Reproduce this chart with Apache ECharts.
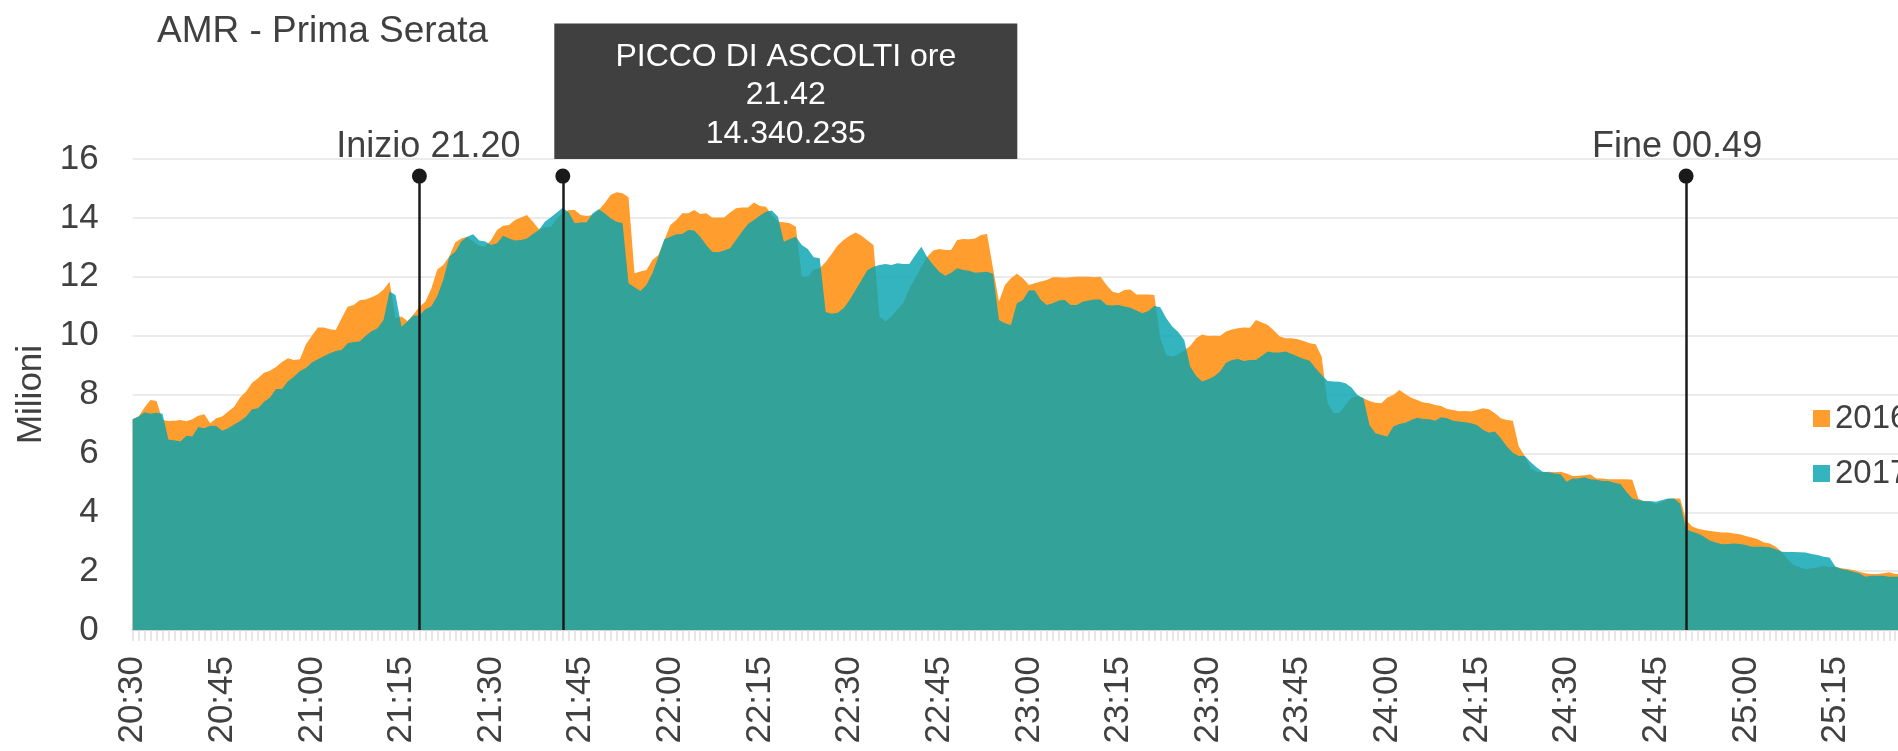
<!DOCTYPE html>
<html>
<head>
<meta charset="utf-8">
<script src="https://cdn.jsdelivr.net/npm/echarts@6/dist/echarts.min.js"></script>
<style>
  html, body { margin: 0; padding: 0; background: #fff; overflow: hidden; }
  #chart { width: 1940px; height: 751px; }
</style>
</head>
<body>
<div id="chart"></div>
<script>
// asse orizzontale: un minuto per punto, dalle 20:30 alle 25:26
const startMinute = 20 * 60 + 30
const times = []
for (let i = 0; i <= 296; i++) {
    const t = startMinute + i
    times.push(Math.floor(t / 60) + ':' + String(t % 60).padStart(2, '0'))
}

// ascolti in milioni
const ascolti2016 = [
    7.16, 7.25, 7.56, 7.81, 7.78, 7.13, 7.10, 7.11, 7.13, 7.09,
    7.16, 7.28, 7.33, 7.02, 7.19, 7.25, 7.42, 7.58, 7.90, 8.10,
    8.40, 8.55, 8.74, 8.81, 8.93, 9.10, 9.23, 9.17, 9.20, 9.70,
    10.00, 10.28, 10.28, 10.22, 10.19, 10.60, 10.98, 11.04, 11.20, 11.23,
    11.30, 11.40, 11.57, 11.83, 10.60, 10.65, 10.50, 10.72, 10.98, 11.15,
    11.60, 12.25, 12.40, 12.70, 13.16, 13.30, 13.36, 13.20, 13.05, 13.03,
    13.25, 13.59, 13.73, 13.76, 13.93, 14.01, 14.10, 13.87, 13.61, 13.68,
    13.70, 13.99, 14.16, 14.27, 14.27, 14.10, 14.06, 14.10, 14.27, 14.50,
    14.78, 14.87, 14.84, 14.70, 12.12, 12.18, 12.23, 12.57, 12.74, 13.25,
    13.76, 13.93, 14.16, 14.16, 14.27, 14.13, 14.16, 14.01, 14.01, 14.01,
    14.18, 14.33, 14.35, 14.35, 14.52, 14.40, 14.38, 14.10, 13.87, 13.85,
    13.82, 13.70, 12.00, 12.00, 12.25, 12.29, 12.50, 12.77, 13.06, 13.25,
    13.39, 13.50, 13.39, 13.23, 13.08, 10.65, 10.48, 10.65, 10.90, 11.12,
    11.60, 11.95, 12.34, 12.68, 12.89, 12.94, 12.91, 12.91, 13.25, 13.28,
    13.27, 13.30, 13.42, 13.45, 12.29, 11.16, 11.72, 11.95, 12.10, 11.95,
    11.72, 11.78, 11.84, 11.89, 11.98, 11.98, 11.97, 11.98, 12.00, 12.00,
    12.00, 11.98, 12.00, 11.72, 11.49, 11.44, 11.55, 11.57, 11.40, 11.40,
    11.40, 11.38, 9.91, 9.34, 9.29, 9.37, 9.50, 9.65, 9.91, 10.04,
    9.99, 10.00, 9.99, 10.14, 10.21, 10.25, 10.28, 10.27, 10.53, 10.45,
    10.36, 10.17, 9.97, 9.91, 9.91, 9.88, 9.82, 9.74, 9.71, 9.29,
    7.70, 7.36, 7.38, 7.64, 7.89, 7.95, 7.87, 7.78, 7.72, 7.70,
    7.90, 7.98, 8.15, 8.02, 7.89, 7.81, 7.73, 7.70, 7.64, 7.61,
    7.51, 7.47, 7.43, 7.44, 7.42, 7.47, 7.53, 7.50, 7.36, 7.19,
    7.13, 7.11, 6.23, 5.91, 5.49, 5.38, 5.36, 5.38, 5.36, 5.38,
    5.32, 5.23, 5.24, 5.26, 5.28, 5.15, 5.15, 5.12, 5.12, 5.12,
    5.12, 5.10, 4.47, 4.36, 4.34, 4.28, 4.36, 4.45, 4.47, 4.47,
    3.74, 3.52, 3.44, 3.40, 3.36, 3.34, 3.31, 3.31, 3.28, 3.25,
    3.19, 3.14, 3.08, 2.97, 2.94, 2.83, 2.66, 2.40, 2.21, 2.13,
    2.06, 2.10, 2.12, 2.17, 2.15, 2.15, 2.10, 2.07, 2.04, 1.98,
    1.93, 1.90, 1.90, 1.93, 1.96, 1.90, 1.90
]
const ascolti2017 = [
    7.16, 7.25, 7.40, 7.35, 7.38, 7.35, 6.46, 6.45, 6.40, 6.60,
    6.57, 6.90, 6.85, 6.94, 6.93, 6.77, 6.85, 6.98, 7.10, 7.25,
    7.50, 7.53, 7.75, 7.90, 8.19, 8.19, 8.45, 8.60, 8.80, 8.90,
    9.09, 9.20, 9.30, 9.40, 9.48, 9.52, 9.74, 9.78, 9.80, 10.00,
    10.15, 10.25, 10.53, 11.50, 11.38, 10.30, 10.48, 10.68, 10.68, 10.90,
    11.00, 11.35, 11.90, 12.68, 12.85, 13.20, 13.36, 13.44, 13.23, 13.20,
    13.08, 13.14, 13.39, 13.30, 13.23, 13.25, 13.30, 13.45, 13.59, 13.87,
    14.02, 14.18, 14.34, 14.18, 13.82, 13.84, 13.85, 14.16, 14.29, 14.16,
    13.99, 13.87, 13.82, 11.78, 11.64, 11.52, 11.72, 12.12, 12.68, 13.27,
    13.36, 13.44, 13.45, 13.59, 13.57, 13.36, 13.08, 12.85, 12.83, 12.89,
    12.97, 13.25, 13.53, 13.79, 13.93, 14.08, 14.21, 14.25, 14.04, 13.19,
    13.28, 13.36, 13.08, 12.94, 12.66, 12.63, 10.80, 10.74, 10.78, 10.93,
    11.21, 11.55, 11.89, 12.23, 12.34, 12.40, 12.43, 12.40, 12.46, 12.43,
    12.43, 12.74, 13.02, 12.66, 12.40, 12.17, 12.03, 12.14, 12.29, 12.23,
    12.20, 12.14, 12.15, 12.17, 12.10, 10.53, 10.42, 10.36, 11.10, 11.21,
    11.53, 11.53, 11.21, 11.04, 11.10, 11.19, 11.21, 11.04, 11.04, 11.15,
    11.19, 11.23, 11.23, 11.04, 11.02, 11.04, 10.99, 10.95, 10.85, 10.76,
    10.84, 11.01, 10.96, 10.59, 10.31, 10.12, 9.85, 8.95, 8.63, 8.44,
    8.52, 8.61, 8.78, 9.08, 9.17, 9.21, 9.14, 9.17, 9.17, 9.32,
    9.46, 9.43, 9.43, 9.46, 9.38, 9.29, 9.21, 9.15, 8.89, 8.66,
    8.46, 8.44, 8.43, 8.38, 8.24, 7.98, 7.87, 6.96, 6.68, 6.62,
    6.57, 6.91, 7.00, 7.04, 7.13, 7.21, 7.17, 7.16, 7.11, 7.23,
    7.19, 7.11, 7.08, 7.06, 7.02, 6.96, 6.80, 6.70, 6.74, 6.51,
    6.23, 6.02, 5.91, 5.91, 5.70, 5.52, 5.38, 5.36, 5.32, 5.29,
    5.04, 5.15, 5.15, 5.19, 5.12, 5.10, 5.06, 5.06, 5.00, 4.96,
    4.70, 4.47, 4.42, 4.38, 4.38, 4.36, 4.42, 4.47, 4.47, 4.30,
    3.42, 3.34, 3.28, 3.17, 3.03, 2.97, 2.91, 2.92, 2.94, 2.92,
    2.89, 2.83, 2.83, 2.83, 2.81, 2.74, 2.66, 2.65, 2.65, 2.64,
    2.63, 2.58, 2.55, 2.49, 2.46, 2.15, 2.07, 2.04, 1.98, 1.93,
    1.81, 1.84, 1.84, 1.84, 1.81, 1.81, 1.81
]

// linee verticali: inizio, picco, fine (indice del minuto)
const inizioIdx = 48
const piccoIdx = 72
const fineIdx = 260
const pinTop = 15.42

const font = 'Liberation Sans, Arial, sans-serif'
const textColor = '#404040'

const chart = echarts.init(document.getElementById('chart'))

const pin = (idx, label) => [
    {xAxis: times[idx], yAxis: 0},
    {xAxis: times[idx], yAxis: pinTop, label: label}
]

const option = {
    animation: false,
    title: {
        text: 'AMR - Prima Serata',
        left: 152,
        top: 8,
        textStyle: {fontFamily: font, fontSize: 37, fontWeight: 'normal', color: textColor}
    },
    legend: {
        orient: 'vertical',
        left: 1808,
        top: 397,
        itemWidth: 17,
        itemHeight: 17,
        itemGap: 22,
        icon: 'rect',
        textStyle: {fontFamily: font, fontSize: 33, color: textColor},
        data: [
            {name: '2016', itemStyle: {color: '#ff9d2e'}},
            {name: '2017', itemStyle: {color: '#33b4bf'}}
        ]
    },
    grid: {
        left: 132.6,
        right: 38.8,
        top: 159,
        bottom: 121
    },
    xAxis: {
        type: 'category',
        data: times,
        boundaryGap: false,
        axisLine: {lineStyle: {color: '#d3d3d3', width: 2}},
        axisTick: {show: true, interval: 0, length: 11, lineStyle: {color: '#e0e0e0', width: 1.5}},
        axisLabel: {
            interval: 14,
            rotate: 90,
            margin: 26,
            fontFamily: font,
            fontSize: 35,
            color: textColor
        },
        splitLine: {show: false}
    },
    yAxis: {
        type: 'value',
        min: 0,
        max: 16,
        interval: 2,
        name: 'Milioni',
        nameLocation: 'middle',
        nameGap: 74,
        nameTextStyle: {fontFamily: font, fontSize: 35, color: textColor},
        axisLine: {show: false},
        axisTick: {show: false},
        axisLabel: {margin: 34, fontFamily: font, fontSize: 35, color: textColor},
        splitLine: {lineStyle: {color: '#ebebeb', width: 2}}
    },
    series: [
        {
            name: '2016',
            type: 'line',
            data: ascolti2016,
            showSymbol: false,
            symbol: 'none',
            color: '#ff9d2e',
            lineStyle: {width: 0},
            areaStyle: {color: '#ff9d2e', opacity: 1}
        },
        {
            name: '2017',
            type: 'line',
            data: ascolti2017,
            showSymbol: false,
            symbol: 'none',
            color: '#06a4b1',
            lineStyle: {width: 0},
            areaStyle: {color: '#06a4b1', opacity: 0.82},
            markLine: {
                silent: true,
                symbol: ['none', 'circle'],
                symbolSize: 15,
                lineStyle: {color: '#1a1a1a', width: 2.5, type: 'solid'},
                label: {
                    position: 'end',
                    distance: 11,
                    fontFamily: font,
                    fontSize: 36,
                    color: textColor
                },
                data: [
                    pin(inizioIdx, {formatter: 'Inizio 21.20', offset: [9, 0]}),
                    pin(piccoIdx, {
                        formatter: 'PICCO DI ASCOLTI ore\n21.42\n14.340.235',
                        fontSize: 32,
                        color: '#ffffff',
                        backgroundColor: '#404040',
                        width: 463,
                        align: 'center',
                        lineHeight: 38.5,
                        padding: [14, 0, 6, 0],
                        distance: 17,
                        offset: [223, 0]
                    }),
                    pin(fineIdx, {formatter: 'Fine 00.49', offset: [-9, 0]})
                ]
            }
        }
    ]
}

chart.setOption(option)
</script>
</body>
</html>
